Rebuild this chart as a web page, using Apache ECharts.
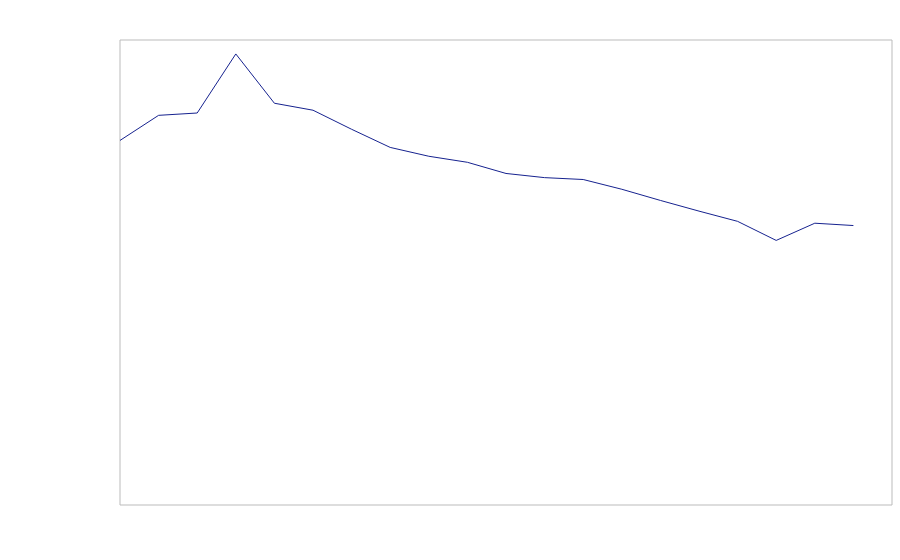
<!DOCTYPE html>
<html>
<head>
<meta charset="utf-8">
<script src="https://cdn.jsdelivr.net/npm/echarts@6/dist/echarts.min.js"></script>
<style>html,body{margin:0;padding:0;background:#fff;}#c{width:900px;height:560px;}</style>
</head>
<body>
<div id="c"></div>
<script>
const categories = ['1','2','3','4','5','6','7','8','9','10','11','12','13','14','15','16','17','18','19','20','21'];
const values = [78.4, 83.8, 84.3, 97.0, 86.4, 84.9, 80.8, 76.9, 75.0, 73.7, 71.3, 70.4, 70.0, 67.9, 65.5, 63.2, 61.0, 56.9, 60.6, 60.1, null];

const chart = echarts.init(document.getElementById('c'), null, {renderer: 'canvas'});
chart.setOption({
  animation: false,
  backgroundColor: '#ffffff',
  grid: {left: 120, right: 8, top: 40, bottom: 55, show: true, borderColor: '#bbbbbb', borderWidth: 1, backgroundColor: 'transparent'},
  xAxis: {
    type: 'category', data: categories, boundaryGap: false,
    axisLine: {show: false}, axisTick: {show: false}, axisLabel: {show: false}, splitLine: {show: false}
  },
  yAxis: {
    type: 'value', min: 0, max: 100,
    axisLine: {show: false}, axisTick: {show: false}, axisLabel: {show: false}, splitLine: {show: false}
  },
  series: [{
    type: 'line', data: values, symbol: 'none', connectNulls: false,
    lineStyle: {color: '#16228f', width: 1}
  }]
});
</script>
</body>
</html>
